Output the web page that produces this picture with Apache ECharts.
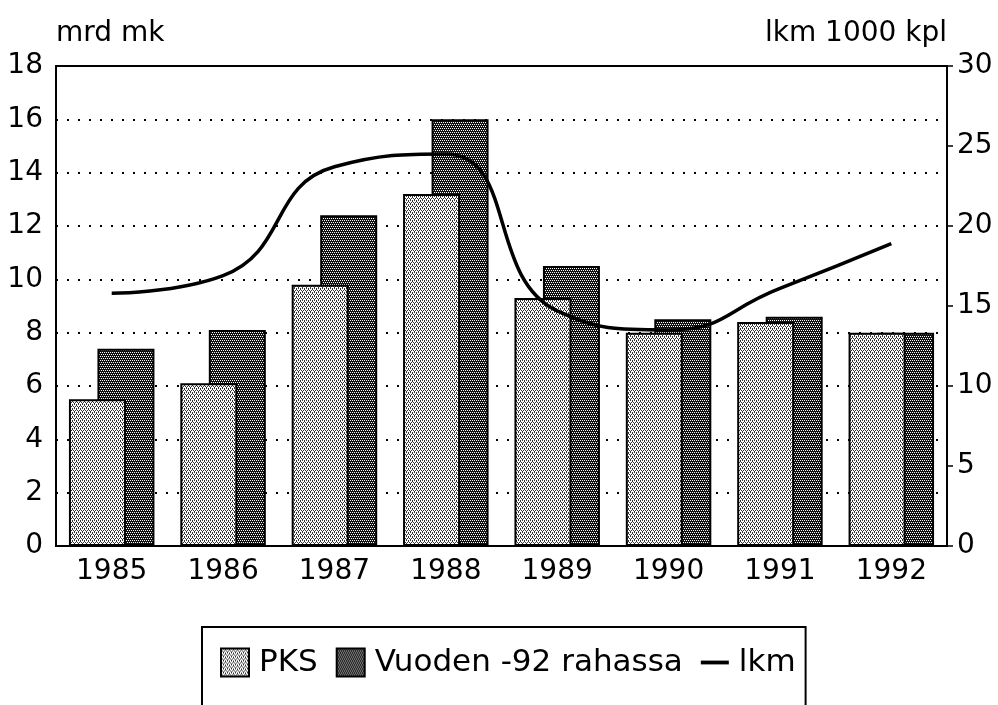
<!DOCTYPE html>
<html>
<head>
<meta charset="utf-8">
<script src="https://cdn.jsdelivr.net/npm/echarts@6/dist/echarts.min.js"></script>
<style>
  html, body { margin: 0; padding: 0; background: #fff; }
  #chart { width: 998px; height: 705px; }
</style>
</head>
<body>
<div id="chart"></div>
<script>
// vuodet ja arvot
var years = ['1985', '1986', '1987', '1988', '1989', '1990', '1991', '1992'];
var pks = [5.5, 6.1, 9.8, 13.2, 9.3, 8.0, 8.4, 8.0];
var rahassa92 = [7.4, 8.1, 12.4, 16.0, 10.5, 8.5, 8.6, 8.0];
var lkm = [15.8, 16.9, 23.7, 24.5, 14.7, 13.5, 16.1, 18.9];

// rasterikuvio pylväisiin
function pattern(bg, fg, dots) {
  var c = document.createElement('canvas');
  c.width = 4;
  c.height = 4;
  var ctx = c.getContext('2d');
  ctx.fillStyle = bg;
  ctx.fillRect(0, 0, 4, 4);
  ctx.fillStyle = fg;
  dots.forEach(function (d) { ctx.fillRect(d[0], d[1], 1, 1); });
  return { image: c, repeat: 'repeat' };
}

var lightFill = pattern('#ffffff', '#333333', [[0, 0], [2, 0], [1, 2], [3, 2], [0, 1], [2, 3]]);
var darkFill = pattern('#111111', '#ffffff', [[0, 0], [2, 0], [1, 2], [3, 2]]);

var font = '"DejaVu Sans", sans-serif';

var chart = echarts.init(document.getElementById('chart'));
chart.setOption({
  animation: false,
  textStyle: { fontFamily: font, color: '#000' },
  grid: {
    left: 56, right: 51, top: 66, bottom: 159,
    show: true, borderColor: '#000', borderWidth: 2
  },
  legend: {
    left: 202,
    top: 627,
    padding: [20, 10, 60, 18],
    borderColor: '#000',
    borderWidth: 2,
    itemWidth: 28,
    itemHeight: 28,
    itemGap: 18,
    textStyle: { fontSize: 31, fontFamily: font, color: '#000', padding: [0, 0, 0, 5] },
    data: [
      { name: 'PKS', icon: 'rect' },
      { name: 'Vuoden -92 rahassa', icon: 'rect' },
      { name: 'lkm', icon: 'path://M0,0L22,0L22,3L0,3Z' }
    ]
  },
  xAxis: {
    type: 'category',
    data: years,
    axisLine: { lineStyle: { color: '#000', width: 2 } },
    axisTick: { show: false },
    axisLabel: { fontSize: 28, color: '#000', margin: 12 }
  },
  yAxis: [
    {
      type: 'value',
      min: 0, max: 18, interval: 2,
      name: 'mrd mk',
      nameGap: 18,
      nameTextStyle: { fontSize: 28, align: 'left', color: '#000' },
      axisLine: { show: true, lineStyle: { color: '#000', width: 2 } },
      axisTick: { show: false },
      axisLabel: { fontSize: 28, color: '#000', margin: 13 },
      splitLine: { lineStyle: { color: '#000', width: 2, type: [2, 9] } }
    },
    {
      type: 'value',
      min: 0, max: 30, interval: 5,
      name: 'lkm 1000 kpl',
      nameGap: 18,
      nameTextStyle: { fontSize: 28, align: 'right', color: '#000' },
      axisLine: { show: true, lineStyle: { color: '#000', width: 2 } },
      axisTick: { show: true, length: 6, lineStyle: { color: '#000', width: 1.5 } },
      axisLabel: { fontSize: 28, color: '#000', margin: 10 },
      splitLine: { show: false }
    }
  ],
  series: [
    {
      name: 'PKS',
      type: 'bar',
      data: pks,
      barWidth: 57,
      barGap: '-50%',
      z: 3,
      itemStyle: { color: lightFill, borderColor: '#000', borderWidth: 2 }
    },
    {
      name: 'Vuoden -92 rahassa',
      type: 'bar',
      data: rahassa92,
      barWidth: 57,
      z: 2,
      itemStyle: { color: darkFill, borderColor: '#000', borderWidth: 2 }
    },
    {
      name: 'lkm',
      type: 'line',
      yAxisIndex: 1,
      data: lkm,
      smooth: 0.5,
      symbol: 'none',
      z: 4,
      lineStyle: { color: '#000', width: 3.5 },
      itemStyle: { color: '#000' }
    }
  ]
});
</script>
</body>
</html>
